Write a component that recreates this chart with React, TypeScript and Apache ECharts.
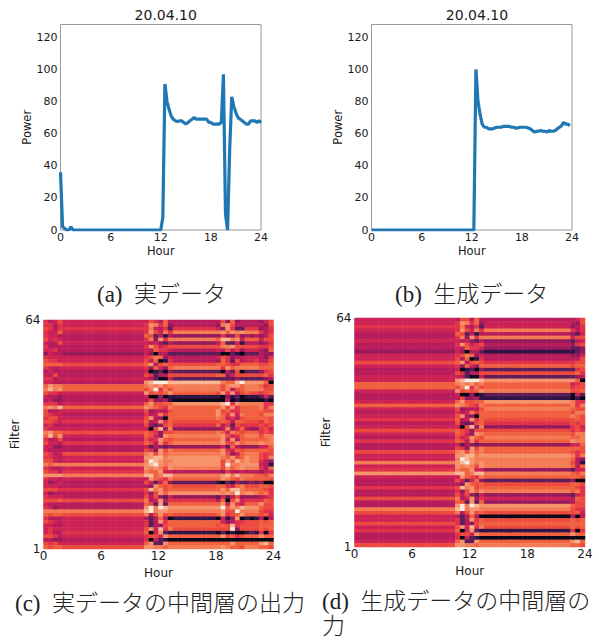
import React, { useEffect, useRef } from "react";
import * as echarts from "echarts";

const titleText = "20.04.10";
const xTicks = [0, 6, 12, 18, 24];
const powerTicks = [0, 20, 40, 60, 80, 100, 120];
const filterTicks = [1, 64];

// Power at every quarter of an hour, 00:00 to 24:00
const realPower = [
  36, 2, 1, 0, 0, 2, 0, 0, 0, 0, 0, 0, 0, 0, 0, 0, 0, 0, 0, 0, 0, 0, 0, 0,
  0, 0, 0, 0, 0, 0, 0, 0, 0, 0, 0, 0, 0, 0, 0, 0, 0, 0, 0, 0, 0, 0, 0, 0,
  0, 8, 91, 80, 75, 71, 69, 68, 67.5, 68, 68, 67, 66, 67, 68, 69, 70, 69, 69, 69, 69, 69, 69, 67,
  67, 66, 66, 66, 66, 67, 97, 10, 0, 50, 83, 77, 73, 70, 69, 68, 67, 66, 66, 68, 68, 68, 67, 68, 67,
];
const generatedPower = [
  0, 0, 0, 0, 0, 0, 0, 0, 0, 0, 0, 0, 0, 0, 0, 0, 0, 0, 0, 0, 0, 0, 0, 0,
  0, 0, 0, 0, 0, 0, 0, 0, 0, 0, 0, 0, 0, 0, 0, 0, 0, 0, 0, 0, 0, 0, 0, 0,
  0, 0, 100, 80, 72, 66, 64, 64, 63, 63, 63, 63.5, 64, 64, 64, 64.5, 64.5, 64.5, 64.5, 64, 64, 63.5, 63.5, 64,
  64, 64, 64, 63.5, 63, 62, 61, 61.5, 61.5, 62, 61.5, 61.5, 61, 62, 61.5, 61.5, 62, 63, 64, 65, 67, 66, 66, 65,
];

// Filter activations, top row first, levels 0..c.
// real: cols 0-3 . base . cols 21-26 . mid . cols 36-41 . cols 42-44 . cols 45-47
const realRows = [
  "6457.5.576484.4.473834.444.357", "6646.5.6a9683.4.39a744.444.437", "7646.6.695462.6.53a622.666.346", "6558.5.6a7596.9.9a8a9a.999.646",
  "6554.4.872414.3.363373.434.347", "7565.4.693a69.9.8bb9a5.888.577", "5447.5.545324.3.482251.444.346", "6444.4.6a7567.7.799a77.777.667",
  "5564.4.548665.4.547463.555.438", "3544.3.530442.2.200210.222.433", "6555.5.679835.4.576344.555.436", "7665.5.748016.4.386274.556.447",
  "8888.7.8a4787.7.887668.888.778", "6545.5.638538.9.96a899.999.888", "4544.4.501203.2.204270.222.367", "5474.4.762447.7.883577.777.786",
  "6645.5.542005.2.222232.222.234", "5544.4.abcccb.b.b988bc.aaa.a80", "8a99.8.9a9a89.9.979aa8.999.867", "9b9a.8.79c697.9.979478.999.977",
  "7665.5.a7878a.8.7a6a57.877.678", "5443.4.500301.1.103120.111.252", "4533.4.473341.0.005010.000.010", "6664.5.8a7788.a.abc6a9.999.966",
  "9a9b.8.a98769.8.8a7a68.888.969", "7445.5.734447.8.a78668.888.877", "7655.4.645968.8.a86a59.888.799", "6775.5.7a4308.8.985647.888.887",
  "7765.6.845a68.7.787488.777.687", "5644.4.732378.6.846276.666.767", "6555.5.507b39.3.349358.433.675", "9a88.7.876377.8.985987.888.676",
  "8b7a.5.8753a9.9.9a7568.999.799", "6447.4.756a87.8.8a5a48.888.889", "7554.6.874968.9.9a77a8.999.a99", "5533.4.524323.3.352843.333.558",
  "5444.4.763a79.8.8a6587.888.887", "7645.7.9a7a89.9.9a7358.999.767", "6654.5.aabb9a.a.a98a78.a99.769", "7754.5.9cba99.a.a7a8b9.a99.643",
  "9899.9.abca9a.a.a7c99a.aaa.541", "6544.5.a9a97a.9.97a89a.999.648", "7664.6.988a55.4.436445.444.355", "aaaa.9.bb89bb.9.9ab9b9.998.879",
  "6554.5.5a8769.8.8a9879.888.887", "5345.4.752583.2.102132.232.300", "5554.4.43a878.7.886589.777.887", "7776.6.7b9a78.8.8a8bb9.888.876",
  "5344.4.637a8a.a.a9a9c9.aa9.896", "6555.4.747325.3.252473.333.456", "7778.7.945a46.6.4807a5.666.687", "5444.4.872a28.8.8a5a65.888.a77",
  "6534.4.ac9cba.a.ac8a9b.aaa.877", "9999.9.bc9aa9.9.9a77c9.999.766", "8788.7.947a78.7.8a678a.888.785", "6444.5.424840.1.0513a0.101.404",
  "7654.5.624a68.8.853466.777.878", "5544.5.624378.8.787b67.777.888", "5655.5.7a5b69.7.777c37.777.878", "5644.6.805a21.1.020100.121.606",
  "7764.5.6775a8.8.8a7867.888.a88", "4433.4.605210.0.000000.000.000", "7675.5.8a22a8.8.888a88.888.ab8", "8788.7.aa9989.9.9a9887.999.887",
];
const realRuns = [1, 17, 1, 9, 1, 1, 1];

// generated: base . cols 21-26 . mid . cols 45-47
const generatedRows = [
  "5.477484.4.457", "5.6a9683.5.437", "6.695462.5.346", "5.6a7596.9.646", "4.872414.4.325", "4.693a69.9.577", "5.545324.3.245", "4.6a7567.4.367",
  "4.548665.3.223", "3.530442.1.123", "5.679835.4.335", "5.748016.4.447", "7.8a4787.6.677", "5.638538.8.788", "4.501203.2.267", "4.762447.7.786",
  "5.542005.2.234", "5.abcccb.a.a80", "8.9a9a89.8.567", "8.79c697.8.677", "5.a7878a.9.778", "4.500301.2.052", "4.473341.1.010", "5.8a7788.a.966",
  "8.a98769.8.969", "5.734447.9.877", "4.645968.8.799", "5.7a4308.8.987", "6.845a68.7.787", "4.732378.6.767", "5.507b39.3.675", "7.876377.7.676",
  "5.8753a9.8.799", "4.756a87.9.889", "6.874968.8.a99", "4.524323.3.558", "4.763a79.8.887", "7.9a7a89.8.767", "5.aabb9a.a.969", "5.9cba99.9.843",
  "9.abca9a.9.741", "5.a9a97a.9.848", "6.988a55.3.255", "a.bb89bb.9.879", "5.5a8769.8.887", "4.752583.2.300", "4.43a878.7.887", "6.7b9a78.8.876",
  "4.637a8a.9.896", "4.747325.3.256", "7.945a46.5.487", "4.872a28.3.477", "4.ac9cba.a.877", "9.bc9aa9.9.766", "7.947a78.7.785", "5.424840.0.404",
  "5.624a68.7.878", "7.624378.8.888", "5.7a5b69.7.878", "6.805a21.1.606", "4.6775a8.8.a88", "4.605210.0.000", "5.8a22a8.8.ab8", "7.aa9989.9.887",
];
const generatedRuns = [21, 1, 18, 1];

const levelColors = [
  "#0a0718", "#2f1547", "#5e1c58", "#96195c", "#b81c5b", "#cd2255", "#e0324a",
  "#ed4a3f", "#f1603f", "#f47c55", "#f6936c", "#f8b695", "#faebdd",
];

const cols = Array.from({ length: 48 }, (_, i) => String(i));
const rowIds = Array.from({ length: 64 }, (_, i) => String(i));

function cells(rows: string[], runs: number[]) {
  const out: number[][] = [];
  rows.forEach((row, r) => {
    const expanded = row
      .split(".")
      .map((tok, i) => [...tok].map((ch) => ch.repeat(runs[i])).join(""))
      .join("");
    [...expanded].forEach((ch, c) => out.push([c, 63 - r, parseInt(ch, 16)]));
  });
  return out;
}

const SANS = "DejaVu Sans";
const TEXT = "#1a1a1a";
const CAP = "'Liberation Serif','Noto Sans CJK JP',serif";

function caption(x: number, y: number, text: string) {
  return {
    type: "text",
    x,
    y,
    style: { text, fill: "#222", font: `300 23px ${CAP}`, verticalAlign: "top", lineHeight: 25 },
  };
}

export default function App() {
  const ref = useRef<HTMLDivElement>(null);
  useEffect(() => {
    document.body.style.margin = "0";
    const chart = echarts.init(ref.current!, null, { renderer: "svg" });
    const label = (size: number) => ({ fontFamily: SANS, fontSize: size, color: TEXT });
    const lineGrid = (left: number) => ({ left, top: 24.5, width: 200.5, height: 205.5, show: true, borderColor: "#999", borderWidth: 1, backgroundColor: "#fff" });
    const lineX = (gridIndex: number) => ({
      type: "value", gridIndex, min: 0, max: 24, interval: 6,
      name: "Hour", nameLocation: "middle", nameGap: 15, nameTextStyle: label(11.5),
      splitLine: { show: false }, axisLine: { show: false }, axisTick: { show: false },
      axisLabel: { ...label(11), margin: 2, customValues: xTicks, hideOverlap: false },
    });
    const lineY = (gridIndex: number) => ({
      type: "value", gridIndex, min: 0, max: 128,
      name: "Power", nameLocation: "middle", nameGap: 25, nameTextStyle: label(11.5),
      splitLine: { show: false }, axisLine: { show: false }, axisTick: { show: false },
      axisLabel: { ...label(11), margin: 3, customValues: powerTicks },
    });
    const hourPairs = (vals: number[]) => vals.map((v, i) => [i * 0.25, v]);
    const catX = (gridIndex: number) => ({ type: "category", gridIndex, data: cols, show: false, boundaryGap: true });
    const catY = (gridIndex: number) => ({ type: "category", gridIndex, data: rowIds, show: false, boundaryGap: true });
    const heatX = (gridIndex: number) => ({
      type: "value", gridIndex, min: 0, max: 24, position: "bottom",
      name: "Hour", nameLocation: "middle", nameGap: 18, nameTextStyle: label(12),
      splitLine: { show: false }, axisLine: { show: false }, axisTick: { show: false },
      axisLabel: { ...label(12), margin: 1, customValues: xTicks },
    });
    const heatY = (gridIndex: number) => ({
      type: "value", gridIndex, min: 1, max: 64, position: "left",
      name: "Filter", nameLocation: "middle", nameGap: 17, nameTextStyle: label(12),
      splitLine: { show: false }, axisLine: { show: false }, axisTick: { show: false },
      axisLabel: { ...label(12), margin: 3, customValues: filterTicks },
    });
    chart.setOption({
      animation: false,
      backgroundColor: "#fff",
      title: [
        { text: titleText, left: 160.75, top: 3, textAlign: "center", textStyle: { ...label(14), fontWeight: "normal" } },
        { text: titleText, left: 472, top: 3, textAlign: "center", textStyle: { ...label(14), fontWeight: "normal" } },
      ],
      grid: [
        lineGrid(60.5),
        lineGrid(371.5),
        { left: 43.5, top: 320, width: 230, height: 229 },
        { left: 354.5, top: 318, width: 230.5, height: 229 },
      ],
      xAxis: [lineX(0), lineX(1), catX(2), catX(3), heatX(2), heatX(3)],
      yAxis: [lineY(0), lineY(1), catY(2), catY(3), heatY(2), heatY(3)],
      visualMap: {
        show: false, type: "continuous", min: 0, max: 12, seriesIndex: [2, 3], dimension: 2,
        inRange: { color: levelColors },
      },
      series: [
        { type: "line", xAxisIndex: 0, yAxisIndex: 0, data: hourPairs(realPower), showSymbol: false, clip: true, lineStyle: { color: "#1f77b4", width: 3.2 } },
        { type: "line", xAxisIndex: 1, yAxisIndex: 1, data: hourPairs(generatedPower), showSymbol: false, clip: true, lineStyle: { color: "#1f77b4", width: 3.2 } },
        { type: "heatmap", xAxisIndex: 2, yAxisIndex: 2, data: cells(realRows, realRuns), silent: true, progressive: 0 },
        { type: "heatmap", xAxisIndex: 3, yAxisIndex: 3, data: cells(generatedRows, generatedRuns), silent: true, progressive: 0 },
      ],
      graphic: [
        caption(97, 282, "(a)  実データ"),
        caption(395, 282, "(b)  生成データ"),
        caption(15, 591, "(c)  実データの中間層の出力"),
        caption(322, 589, "(d)  生成データの中間層の\n力"),
      ],
    });
    return () => chart.dispose();
  }, []);
  return <div ref={ref} style={{ position: "absolute", left: 0, top: 0, width: 599, height: 640 }} />;
}
